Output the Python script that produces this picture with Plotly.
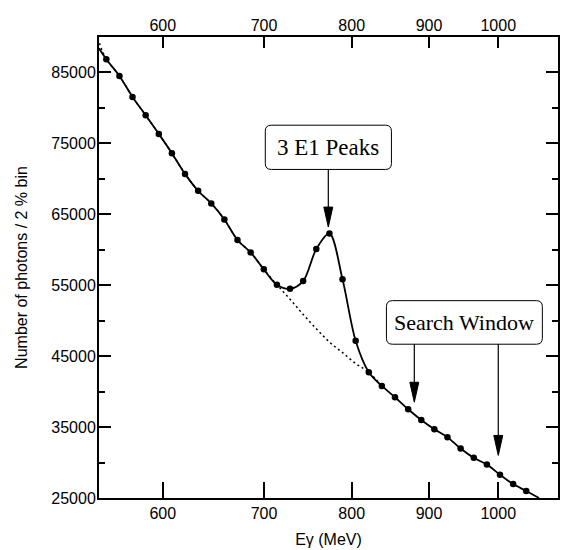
import math
import plotly.graph_objects as go

# Photon energy bin centres (MeV, 2 % bins) and counts per bin
e_gamma = [550.6, 561.7, 573.0, 584.6, 596.4, 608.4, 620.7, 633.2, 646.0, 659.0,
           672.3, 685.9, 699.8, 713.9, 728.3, 743.0, 758.0, 773.3, 788.9, 804.8,
           821.1, 837.6, 854.5, 871.8, 889.4, 907.3, 925.6, 944.3, 963.4, 982.8,
           1002.6, 1022.9, 1043.5]
counts = [86860, 84510, 81550, 78970, 76340, 73620, 70700, 68310, 66540, 64280,
          61370, 59630, 57240, 55070, 54510, 55590, 60100, 62310, 55830, 47180,
          42730, 40800, 39210, 37520, 36010, 34700, 33580, 31970, 30660, 29720,
          28270, 26960, 25990]

# Full fit (background + peaks), extended to the plot edges
fit_e = [544.5] + e_gamma + [1064.0]
fit_counts = [88400] + counts + [25000]

# Smooth background alone, through the peak region
bg_e = [543.5, 550.6, 561.7, 573.0, 584.6, 596.4, 608.4, 620.7, 633.2, 646.0,
        659.0, 672.3, 685.9, 699.8, 713.9, 728.3, 743.0, 758.0, 773.3, 788.9,
        804.8, 821.1, 837.6]
bg_counts = [89800, 86860, 84510, 81550, 78970, 76340, 73620, 70700, 68310, 66540,
             64280, 61370, 59630, 57240, 55070, 53040, 50870, 48870, 46990, 45490,
             43970, 42730, 40800]

x_ticks = [600, 700, 800, 900, 1000]
y_ticks = [25000, 35000, 45000, 55000, 65000, 75000, 85000]

X_RANGE = [544.5, 1095.2]
Y_RANGE = [25000, 90000]
LOG_LO, LOG_HI = math.log10(X_RANGE[0]), math.log10(X_RANGE[1])

ML, MR, MT, MB = 99, 2, 37, 52
W, H = 562, 550
PW, PH = W - ML - MR, H - MT - MB


def xp(mev):
    return (math.log10(mev) - LOG_LO) / (LOG_HI - LOG_LO)


def yp(c):
    return (c - Y_RANGE[0]) / (Y_RANGE[1] - Y_RANGE[0])


fig = go.Figure()
fig.add_trace(go.Scatter(x=bg_e, y=bg_counts, mode="lines",
                         line=dict(color="black", width=1.5, dash="2px,3px", shape="spline"),
                         hoverinfo="skip"))
fig.add_trace(go.Scatter(x=fit_e, y=fit_counts, mode="lines",
                         line=dict(color="black", width=1.8, shape="spline", smoothing=0.9),
                         hoverinfo="skip"))
fig.add_trace(go.Scatter(x=e_gamma, y=counts, mode="markers",
                         marker=dict(color="black", size=6.5)))
fig.add_trace(go.Scatter(x=[], y=[], xaxis="x2", showlegend=False))

font_sans = "Liberation Sans, Arial, sans-serif"
font_serif = "Liberation Serif, Times New Roman, serif"

shapes = []
annotations = []


def rounded_box(x0, x1, y0, y1, r=6):
    rx, ry = r / PW, r / PH
    path = (f"M{x0+rx},{y0} L{x1-rx},{y0} Q{x1},{y0} {x1},{y0+ry} "
            f"L{x1},{y1-ry} Q{x1},{y1} {x1-rx},{y1} L{x0+rx},{y1} "
            f"Q{x0},{y1} {x0},{y1-ry} L{x0},{y0+ry} Q{x0},{y0} {x0+rx},{y0} Z")
    shapes.append(dict(type="path", xref="paper", yref="paper", path=path,
                       line=dict(color="black", width=1), fillcolor="white"))


def arrow(mev, c, y_tail, head_len=20, head_half=4.5):
    x = xp(mev)
    y_tip = yp(c)
    y_base = y_tip + head_len / PH
    shapes.append(dict(type="line", xref="paper", yref="paper",
                       x0=x, x1=x, y0=y_tail, y1=y_base,
                       line=dict(color="black", width=1.2)))
    hw = head_half / PW
    shapes.append(dict(type="path", xref="paper", yref="paper",
                       path=f"M{x},{y_tip} L{x-hw},{y_base} L{x+hw},{y_base} Z",
                       fillcolor="black", line=dict(color="black", width=1)))


def label(text, x0, x1, y0, y1, size):
    rounded_box(x0, x1, y0, y1)
    annotations.append(dict(text=text, x=(x0 + x1) / 2, y=(y0 + y1) / 2,
                            xref="paper", yref="paper", showarrow=False,
                            xanchor="center", yanchor="middle",
                            font=dict(family=font_serif, size=size, color="black")))


# "3 E1 Peaks" box with arrow onto the peak
pk = dict(x0=0.3623, x1=0.6371, y0=0.7127, y1=0.8087)
label("3 E1 Peaks", pk["x0"], pk["x1"], pk["y0"], pk["y1"], 23)
arrow(772, 63200, pk["y0"])

# "Search Window" box with two arrows
sw = dict(x0=0.6262, x1=0.9659, y0=0.3336, y1=0.4281)
label("Search Window", sw["x0"], sw["x1"], sw["y0"], sw["y1"], 22)
arrow(880, 38500, sw["y0"])
arrow(1000, 31000, sw["y0"])

axis_common = dict(showgrid=False, zeroline=False, linecolor="black",
                   tickcolor="black", ticks="inside",
                   tickfont=dict(family=font_sans, size=16, color="black"))

fig.update_layout(
    width=W, height=H,
    margin=dict(l=ML, r=MR, t=MT, b=MB),
    paper_bgcolor="white", plot_bgcolor="white",
    showlegend=False,
    shapes=shapes, annotations=annotations,
    xaxis=dict(axis_common, type="log", range=[LOG_LO, LOG_HI],
               tickvals=x_ticks, ticktext=[str(v) for v in x_ticks],
               ticklen=16, tickwidth=1.5, linewidth=2, mirror=True,
               title=dict(text="Eγ (MeV)", standoff=13,
                          font=dict(family=font_sans, size=16, color="black"))),
    xaxis2=dict(axis_common, type="log", range=[LOG_LO, LOG_HI], overlaying="x",
                side="top", tickvals=x_ticks, ticktext=[str(v) for v in x_ticks],
                ticklen=11, tickwidth=1.5, showline=False, ticklabelstandoff=2),
    yaxis=dict(axis_common, range=Y_RANGE, tickvals=y_ticks, tickformat="d",
               ticklen=12, tickwidth=1.5, linewidth=2, mirror="ticks",
               minor=dict(ticks="inside", ticklen=6, tickwidth=1.5, dtick=5000,
                          tick0=25000, tickcolor="black"),
               ticklabelstandoff=-2,
               title=dict(text="Number of photons / 2 % bin", standoff=20,
                          font=dict(family=font_sans, size=16, color="black"))),
)

fig.write_html("out.html")
